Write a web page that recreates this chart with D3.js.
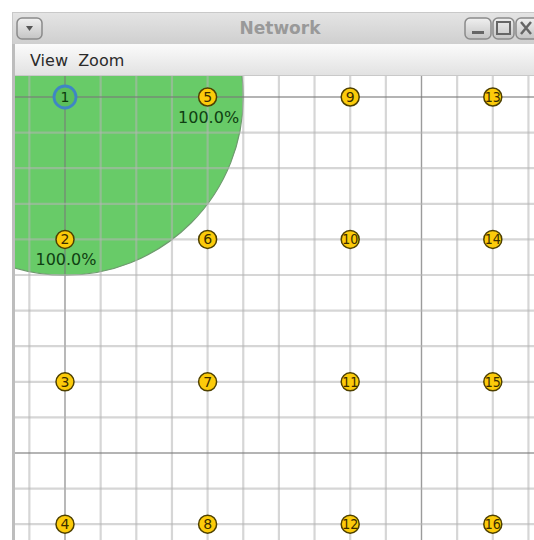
<!DOCTYPE html>
<html>
  <head>
    <meta charset="utf-8">
    <style>
      body { margin: 0; background: #fff; }
      svg { display: block; }
    </style>
    <script src="https://d3js.org/d3.v7.min.js"></script>
  </head>
  <body>
    <svg></svg>
    <script>
    // mote data (positions in metres)
    var moteIds = [1, 2, 3, 4, 5, 6, 7, 8, 9, 10, 11, 12, 13, 14, 15, 16];
    var moteX   = [0, 0, 0, 0, 40, 40, 40, 40, 80, 80, 80, 80, 120, 120, 120, 120];
    var moteY   = [0, 40, 80, 120, 0, 40, 80, 120, 0, 40, 80, 120, 0, 40, 80, 120];
    var selectedMote = 1;
    var radioRange = 50;
    // reception ratio shown under motes in range
    var rxMotes = [2, 5];
    var rxLabels = ["100.0%", "100.0%"];
    var menuItems = ["View", "Zoom"];
    var windowTitle = "Network";

    var width = 534, height = 540;
    var svg = d3.select("svg").attr("width", width).attr("height", height);

    var x = d3.scaleLinear().domain([0, 40]).range([65, 207.6]);
    var y = d3.scaleLinear().domain([0, 40]).range([97, 239.4]);

    var defs = svg.append("defs");
    var tg = defs.append("linearGradient").attr("id", "titleGrad").attr("x1", 0).attr("x2", 0).attr("y1", 0).attr("y2", 1);
    tg.append("stop").attr("offset", "0%").attr("stop-color", "#e4e4e4");
    tg.append("stop").attr("offset", "100%").attr("stop-color", "#cfcfcf");
    var mg = defs.append("linearGradient").attr("id", "menuGrad").attr("x1", 0).attr("x2", 0).attr("y1", 0).attr("y2", 1);
    mg.append("stop").attr("offset", "0%").attr("stop-color", "#fbfbfb");
    mg.append("stop").attr("offset", "100%").attr("stop-color", "#e2e2e2");
    var bg = defs.append("linearGradient").attr("id", "btnGrad").attr("x1", 0).attr("x2", 0).attr("y1", 0).attr("y2", 1);
    bg.append("stop").attr("offset", "0%").attr("stop-color", "#f0f0f0");
    bg.append("stop").attr("offset", "100%").attr("stop-color", "#c4c4c4");
    defs.append("clipPath").attr("id", "canvasClip")
      .append("rect").attr("x", 15).attr("y", 76).attr("width", width - 15).attr("height", height - 76);

    // window frame
    svg.append("rect").attr("x", 12).attr("y", 12).attr("width", width - 12).attr("height", height - 12)
        .attr("fill", "#c9c9c9");
    svg.append("rect").attr("x", 13).attr("y", 13).attr("width", width - 13).attr("height", 31)
        .attr("fill", "url(#titleGrad)");
    svg.append("text")
        .attr("x", 280).attr("y", 34)
        .attr("text-anchor", "middle")
        .attr("font-family", "DejaVu Sans")
        .attr("font-size", "17px")
        .attr("font-weight", "bold")
        .attr("fill", "#999")
        .text(windowTitle);

    // title buttons
    function button(bx, bw) {
      svg.append("rect").attr("x", bx).attr("y", 18).attr("width", bw).attr("height", 21)
          .attr("rx", 5).attr("fill", "url(#btnGrad)").attr("stroke", "#8a8a8a").attr("stroke-width", 1.5);
    }
    button(17, 25);
    svg.append("path").attr("d", "M26,26 L33,26 L29.5,31 Z").attr("fill", "#555");
    button(465, 26);
    svg.append("rect").attr("x", 472).attr("y", 31).attr("width", 12).attr("height", 3).attr("fill", "#666");
    button(493, 21);
    svg.append("rect").attr("x", 497).attr("y", 22).attr("width", 13).attr("height", 12)
        .attr("fill", "none").attr("stroke", "#666").attr("stroke-width", 2);
    button(516, 24);
    svg.append("path").attr("d", "M521,22 L531,34 M531,22 L521,34").attr("stroke", "#666").attr("stroke-width", 2.5);

    // menu bar
    svg.append("rect").attr("x", 15).attr("y", 44).attr("width", width - 15).attr("height", 31)
        .attr("fill", "url(#menuGrad)");
    svg.append("text")
        .attr("x", 30).attr("y", 66)
        .attr("font-family", "DejaVu Sans")
        .attr("font-size", "16px")
        .attr("fill", "#2a2a2a")
        .attr("xml:space", "preserve")
        .text(menuItems.join("  "));

    // canvas
    var canvas = svg.append("g").attr("clip-path", "url(#canvasClip)");
    canvas.append("rect").attr("x", 15).attr("y", 76).attr("width", width - 15).attr("height", height - 76)
        .attr("fill", "#fff");

    // radio range of selected mote
    var si = moteIds.indexOf(selectedMote);
    canvas.append("circle")
        .attr("cx", x(moteX[si])).attr("cy", y(moteY[si]))
        .attr("r", x(radioRange) - x(0))
        .attr("fill", "#68cb68")
        .attr("stroke", "#6f9a6f")
        .attr("stroke-width", 1.2);

    // grid: 10 m minor, 100 m major
    var gx = d3.range(-20, 150, 10), gy = d3.range(-10, 150, 10);
    canvas.selectAll(".vgrid").data(gx).enter().append("line")
        .attr("x1", function(d) { return x(d); }).attr("x2", function(d) { return x(d); })
        .attr("y1", 76).attr("y2", height)
        .attr("stroke", function(d) { return d % 100 === 0 ? "#7a7a7a" : "#b4b4b4"; })
        .attr("stroke-opacity", function(d) { return d % 100 === 0 ? 0.75 : 0.55; })
        .attr("stroke-width", function(d) { return d % 100 === 0 ? 1.4 : 2.2; });
    canvas.selectAll(".hgrid").data(gy).enter().append("line")
        .attr("y1", function(d) { return y(d); }).attr("y2", function(d) { return y(d); })
        .attr("x1", 15).attr("x2", width)
        .attr("stroke", function(d) { return d % 100 === 0 ? "#7a7a7a" : "#b4b4b4"; })
        .attr("stroke-opacity", function(d) { return d % 100 === 0 ? 0.75 : 0.55; })
        .attr("stroke-width", function(d) { return d % 100 === 0 ? 1.4 : 2.2; });

    // motes
    var motes = canvas.selectAll(".mote").data(moteIds).enter().append("g")
        .attr("transform", function(d, i) { return "translate(" + x(moteX[i]) + "," + y(moteY[i]) + ")"; });
    motes.append("circle")
        .attr("r", function(d) { return d === selectedMote ? 11 : 9; })
        .attr("fill", function(d) { return d === selectedMote ? "#5cbf5c" : "#fccb0a"; })
        .attr("stroke", function(d) { return d === selectedMote ? "#3f86c4" : "#4e4000"; })
        .attr("stroke-width", function(d) { return d === selectedMote ? 2.8 : 1.5; });
    motes.append("text")
        .attr("text-anchor", "middle")
        .attr("y", 5)
        .attr("font-family", "DejaVu Sans")
        .attr("font-size", "14px")
        .attr("fill", function(d) { return d === selectedMote ? "#0d3a0d" : "#3b2e00"; })
        .attr("textLength", function(d) { return d > 9 ? 16 : null; })
        .attr("lengthAdjust", "spacingAndGlyphs")
        .text(function(d) { return d; });

    // reception labels
    canvas.selectAll(".rx").data(rxMotes).enter().append("text")
        .attr("x", function(d) { return x(moteX[moteIds.indexOf(d)]) + 1; })
        .attr("y", function(d) { return y(moteY[moteIds.indexOf(d)]) + 26; })
        .attr("text-anchor", "middle")
        .attr("font-family", "DejaVu Sans")
        .attr("font-size", "16px")
        .attr("fill", "#0f3f12")
        .text(function(d, i) { return rxLabels[i]; });

    // left window border
    svg.append("rect").attr("x", 12).attr("y", 44).attr("width", 3).attr("height", height - 44)
        .attr("fill", "#bdbdbd");
    </script>
  </body>
</html>
